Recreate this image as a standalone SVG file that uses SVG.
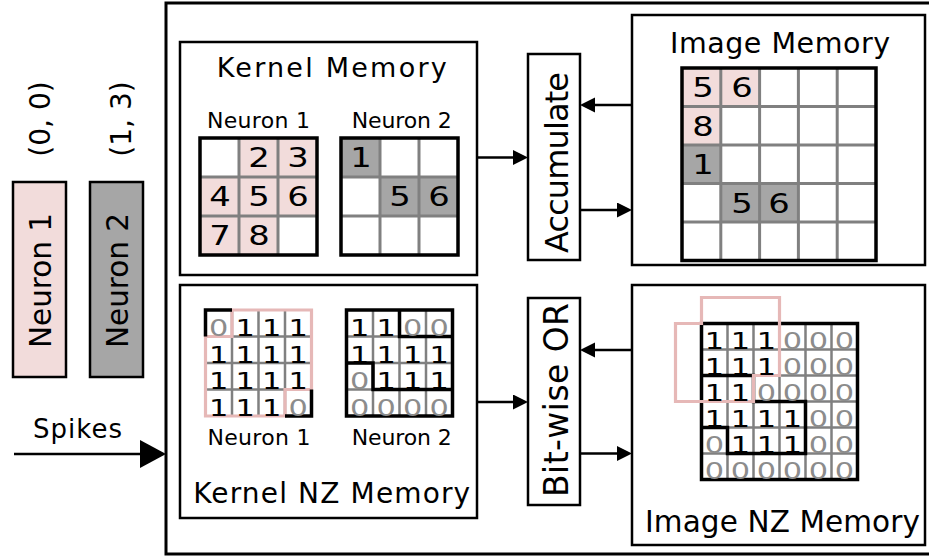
<svg xmlns="http://www.w3.org/2000/svg" width="929" height="556" viewBox="0 0 929 556">
  <style>
    .t { font-family: "DejaVu Sans", "Liberation Sans", sans-serif; fill: #000; }
    .mid { text-anchor: middle; }
    .box { fill: #fff; stroke: #000; stroke-width: 2.5; }
    .frame { fill: none; stroke: #000; stroke-width: 3; }
    .pink { fill: #F2DCDB; }
    .grey { fill: #A6A6A6; }
    .gl { fill: none; stroke: #808080; stroke-width: 3; }
    .gl2 { fill: none; stroke: #808080; stroke-width: 2.5; }
    .gb { fill: none; stroke: #000; stroke-width: 3.5; }
    .po { fill: none; stroke: #E6B8B7; stroke-width: 3.2; }
    .kd { font-size: 26px; text-anchor: middle; }
    .nd { font-size: 22.5px; text-anchor: middle; }
    .z { fill: #8C8C8C; }
    .wire { fill: none; stroke: #000; stroke-width: 2.5; }
  </style>
  <defs>
    <marker id="ah" markerUnits="userSpaceOnUse" markerWidth="16" markerHeight="16" refX="0" refY="7.5" orient="auto">
      <path d="M0,0 L15,7.5 L0,15 Z" fill="#000"/>
    </marker>
    <marker id="ahBig" markerUnits="userSpaceOnUse" markerWidth="28" markerHeight="30" refX="0" refY="14" orient="auto">
      <path d="M0,0 L26,14 L0,28 Z" fill="#000"/>
    </marker>
  </defs>

  <rect width="929" height="556" fill="#fff"/>

  <!-- spike sources -->
  <g id="neuron1">
    <rect x="13" y="182" width="53" height="195" class="pink" stroke="#000" stroke-width="2.5"/>
    <text class="t mid" font-size="29.5" textLength="135" transform="translate(50.5,280.5) rotate(-90)">Neuron 1</text>
    <text class="t mid" font-size="28" transform="translate(49.5,119) rotate(-90)">(0, 0)</text>
  </g>
  <g id="neuron2">
    <rect x="90" y="182" width="53" height="195" class="grey" stroke="#000" stroke-width="2.5"/>
    <text class="t mid" font-size="29.5" textLength="135" transform="translate(127.5,280.5) rotate(-90)">Neuron 2</text>
    <text class="t mid" font-size="28" transform="translate(131,119) rotate(-90)">(1, 3)</text>
  </g>
  <g id="spikes">
    <text class="t mid" x="77.5" y="438" font-size="26" textLength="89">Spikes</text>
  </g>

  <!-- accelerator frame -->
  <g id="core">
    <rect x="166" y="3" width="790" height="551" class="frame"/>
  </g>

  <!-- Kernel Memory -->
  <g id="kernel-memory">
    <rect x="180" y="42" width="297" height="233" class="box"/>
    <text class="t mid" x="331.7" y="77" font-size="27" textLength="230">Kernel Memory</text>
    <text class="t mid" x="258.5" y="128.3" font-size="22" textLength="103">Neuron 1</text>
    <text class="t mid" x="401.7" y="128.3" font-size="22" textLength="100">Neuron 2</text>
    <!-- neuron 1 kernel -->
    <rect x="239" y="138" width="78" height="39" class="pink"/>
    <rect x="200" y="177" width="117" height="39" class="pink"/>
    <rect x="200" y="216" width="78" height="39" class="pink"/>
    <path d="M239,138 V255 M278,138 V255 M200,177 H317 M200,216 H317" class="gl"/>
    <rect x="200" y="138" width="117" height="117" class="gb"/>
    <text class="t kd" transform="translate(259,167) scale(1.3,1)">2</text>
    <text class="t kd" transform="translate(298,167) scale(1.3,1)">3</text>
    <text class="t kd" transform="translate(220,206) scale(1.3,1)">4</text>
    <text class="t kd" transform="translate(259,206) scale(1.3,1)">5</text>
    <text class="t kd" transform="translate(298,206) scale(1.3,1)">6</text>
    <text class="t kd" transform="translate(220,245) scale(1.3,1)">7</text>
    <text class="t kd" transform="translate(259,245) scale(1.3,1)">8</text>
    <!-- neuron 2 kernel -->
    <rect x="341" y="138" width="39" height="39" class="grey"/>
    <rect x="380" y="177" width="78" height="39" class="grey"/>
    <path d="M380,138 V255 M419,138 V255 M341,177 H458 M341,216 H458" class="gl"/>
    <rect x="341" y="138" width="117" height="117" class="gb"/>
    <text class="t kd" transform="translate(361,167) scale(1.3,1)">1</text>
    <text class="t kd" transform="translate(400,206) scale(1.3,1)">5</text>
    <text class="t kd" transform="translate(439,206) scale(1.3,1)">6</text>
  </g>

  <!-- Image Memory -->
  <g id="image-memory">
    <rect x="632" y="15" width="293" height="250" class="box"/>
    <text class="t mid" x="780" y="53.3" font-size="28.5" textLength="220">Image Memory</text>
    <rect x="682" y="68" width="77.6" height="38.5" class="pink"/>
    <rect x="682" y="106.5" width="38.8" height="38.5" class="pink"/>
    <rect x="682" y="145" width="38.8" height="38.5" class="grey"/>
    <rect x="720.8" y="183.5" width="77.6" height="38.5" class="grey"/>
    <path d="M720.8,68 V260.5 M759.6,68 V260.5 M798.4,68 V260.5 M837.2,68 V260.5 M682,106.5 H876 M682,145 H876 M682,183.5 H876 M682,222 H876" class="gl"/>
    <rect x="682" y="68" width="194" height="192.5" class="gb"/>
    <text class="t kd" transform="translate(703,97) scale(1.3,1)">5</text>
    <text class="t kd" transform="translate(742,97) scale(1.3,1)">6</text>
    <text class="t kd" transform="translate(703,135.5) scale(1.3,1)">8</text>
    <text class="t kd" transform="translate(703,174) scale(1.3,1)">1</text>
    <text class="t kd" transform="translate(742,212.5) scale(1.3,1)">5</text>
    <text class="t kd" transform="translate(779,212.5) scale(1.3,1)">6</text>
  </g>

  <!-- Accumulate unit -->
  <g id="accumulate">
    <rect x="528" y="54" width="52" height="206" class="box"/>
    <text class="t mid" font-size="32" textLength="181" transform="translate(568,162.5) rotate(-90)">Accumulate</text>
  </g>

  <!-- Kernel NZ Memory -->
  <g id="kernel-nz-memory">
    <rect x="180" y="285" width="297" height="233" class="box"/>
    <text class="t mid" x="331.7" y="503.3" font-size="28" textLength="277">Kernel NZ Memory</text>
    <text class="t mid" x="259" y="445" font-size="22" textLength="103">Neuron 1</text>
    <text class="t mid" x="401.7" y="445" font-size="22" textLength="100">Neuron 2</text>
    <!-- neuron 1 non-zero map -->
    <path d="M232,310 V416 M258.5,310 V416 M285,310 V416 M205.5,336.5 H311.5 M205.5,363 H311.5 M205.5,389.5 H311.5" class="gl2"/>
    <path d="M232,310 H311.5 V389.5 H285 V416 H205.5 V336.5 H232 Z" class="po"/>
    <path d="M205.5,336.5 V310 H232 M285,416 H311.5 V389.5" class="gb"/>
    <text class="t nd z" transform="translate(218.75,336) scale(1.35,1)">0</text>
    <text class="t nd" transform="translate(245.25,336) scale(1.35,1)">1</text>
    <text class="t nd" transform="translate(271.75,336) scale(1.35,1)">1</text>
    <text class="t nd" transform="translate(298.25,336) scale(1.35,1)">1</text>
    <text class="t nd" transform="translate(218.75,362.5) scale(1.35,1)">1</text>
    <text class="t nd" transform="translate(245.25,362.5) scale(1.35,1)">1</text>
    <text class="t nd" transform="translate(271.75,362.5) scale(1.35,1)">1</text>
    <text class="t nd" transform="translate(298.25,362.5) scale(1.35,1)">1</text>
    <text class="t nd" transform="translate(218.75,389) scale(1.35,1)">1</text>
    <text class="t nd" transform="translate(245.25,389) scale(1.35,1)">1</text>
    <text class="t nd" transform="translate(271.75,389) scale(1.35,1)">1</text>
    <text class="t nd" transform="translate(298.25,389) scale(1.35,1)">1</text>
    <text class="t nd" transform="translate(218.75,415.5) scale(1.35,1)">1</text>
    <text class="t nd" transform="translate(245.25,415.5) scale(1.35,1)">1</text>
    <text class="t nd" transform="translate(271.75,415.5) scale(1.35,1)">1</text>
    <text class="t nd z" transform="translate(298.25,415.5) scale(1.35,1)">0</text>
    <!-- neuron 2 non-zero map -->
    <path d="M373,310 V416 M399.5,310 V416 M426,310 V416 M346.5,336.5 H452.5 M346.5,363 H452.5 M346.5,389.5 H452.5" class="gl2"/>
    <path d="M399.5,310 V336.5 H452.5 M346.5,363 H373 V389.5 H452.5" class="gb"/>
    <rect x="346.5" y="310" width="106" height="106" class="gb"/>
    <text class="t nd" transform="translate(359.75,336) scale(1.35,1)">1</text>
    <text class="t nd" transform="translate(386.25,336) scale(1.35,1)">1</text>
    <text class="t nd z" transform="translate(412.75,336) scale(1.35,1)">0</text>
    <text class="t nd z" transform="translate(439.25,336) scale(1.35,1)">0</text>
    <text class="t nd" transform="translate(359.75,362.5) scale(1.35,1)">1</text>
    <text class="t nd" transform="translate(386.25,362.5) scale(1.35,1)">1</text>
    <text class="t nd" transform="translate(412.75,362.5) scale(1.35,1)">1</text>
    <text class="t nd" transform="translate(439.25,362.5) scale(1.35,1)">1</text>
    <text class="t nd z" transform="translate(359.75,389) scale(1.35,1)">0</text>
    <text class="t nd" transform="translate(386.25,389) scale(1.35,1)">1</text>
    <text class="t nd" transform="translate(412.75,389) scale(1.35,1)">1</text>
    <text class="t nd" transform="translate(439.25,389) scale(1.35,1)">1</text>
    <text class="t nd z" transform="translate(359.75,415.5) scale(1.35,1)">0</text>
    <text class="t nd z" transform="translate(386.25,415.5) scale(1.35,1)">0</text>
    <text class="t nd z" transform="translate(412.75,415.5) scale(1.35,1)">0</text>
    <text class="t nd z" transform="translate(439.25,415.5) scale(1.35,1)">0</text>
  </g>

  <!-- Image NZ Memory -->
  <g id="image-nz-memory">
    <rect x="632" y="285" width="293" height="260" class="box"/>
    <text class="t mid" x="782.5" y="531.7" font-size="29.5" textLength="275">Image NZ Memory</text>
    <path d="M727.5,323.5 V479.5 M753.5,323.5 V479.5 M779.5,323.5 V479.5 M805.5,323.5 V479.5 M831.5,323.5 V479.5 M701.5,349.5 H857.5 M701.5,375.5 H857.5 M701.5,401.5 H857.5 M701.5,427.5 H857.5 M701.5,453.5 H857.5" class="gl2"/>
    <rect x="701.5" y="323.5" width="156" height="156" class="gb"/>
    <path d="M701.5,375.5 H753.5 V401.5 H805.5 V453.5 H727.5 V427.5 H701.5" class="gb"/>
    <path d="M701.5,297.5 H779.5 V375.5 H753.5 V401.5 H675.5 V323.5 H701.5 Z" class="po"/>
    <!-- row 0 -->
    <text class="t nd" transform="translate(714.5,349) scale(1.35,1)">1</text>
    <text class="t nd" transform="translate(740.5,349) scale(1.35,1)">1</text>
    <text class="t nd" transform="translate(766.5,349) scale(1.35,1)">1</text>
    <text class="t nd z" transform="translate(792.5,349) scale(1.35,1)">0</text>
    <text class="t nd z" transform="translate(818.5,349) scale(1.35,1)">0</text>
    <text class="t nd z" transform="translate(844.5,349) scale(1.35,1)">0</text>
    <!-- row 1 -->
    <text class="t nd" transform="translate(714.5,375) scale(1.35,1)">1</text>
    <text class="t nd" transform="translate(740.5,375) scale(1.35,1)">1</text>
    <text class="t nd" transform="translate(766.5,375) scale(1.35,1)">1</text>
    <text class="t nd z" transform="translate(792.5,375) scale(1.35,1)">0</text>
    <text class="t nd z" transform="translate(818.5,375) scale(1.35,1)">0</text>
    <text class="t nd z" transform="translate(844.5,375) scale(1.35,1)">0</text>
    <!-- row 2 -->
    <text class="t nd" transform="translate(714.5,401) scale(1.35,1)">1</text>
    <text class="t nd" transform="translate(740.5,401) scale(1.35,1)">1</text>
    <text class="t nd z" transform="translate(766.5,401) scale(1.35,1)">0</text>
    <text class="t nd z" transform="translate(792.5,401) scale(1.35,1)">0</text>
    <text class="t nd z" transform="translate(818.5,401) scale(1.35,1)">0</text>
    <text class="t nd z" transform="translate(844.5,401) scale(1.35,1)">0</text>
    <!-- row 3 -->
    <text class="t nd" transform="translate(714.5,427) scale(1.35,1)">1</text>
    <text class="t nd" transform="translate(740.5,427) scale(1.35,1)">1</text>
    <text class="t nd" transform="translate(766.5,427) scale(1.35,1)">1</text>
    <text class="t nd" transform="translate(792.5,427) scale(1.35,1)">1</text>
    <text class="t nd z" transform="translate(818.5,427) scale(1.35,1)">0</text>
    <text class="t nd z" transform="translate(844.5,427) scale(1.35,1)">0</text>
    <!-- row 4 -->
    <text class="t nd z" transform="translate(714.5,453) scale(1.35,1)">0</text>
    <text class="t nd" transform="translate(740.5,453) scale(1.35,1)">1</text>
    <text class="t nd" transform="translate(766.5,453) scale(1.35,1)">1</text>
    <text class="t nd" transform="translate(792.5,453) scale(1.35,1)">1</text>
    <text class="t nd z" transform="translate(818.5,453) scale(1.35,1)">0</text>
    <text class="t nd z" transform="translate(844.5,453) scale(1.35,1)">0</text>
    <!-- row 5 -->
    <text class="t nd z" transform="translate(714.5,479) scale(1.35,1)">0</text>
    <text class="t nd z" transform="translate(740.5,479) scale(1.35,1)">0</text>
    <text class="t nd z" transform="translate(766.5,479) scale(1.35,1)">0</text>
    <text class="t nd z" transform="translate(792.5,479) scale(1.35,1)">0</text>
    <text class="t nd z" transform="translate(818.5,479) scale(1.35,1)">0</text>
    <text class="t nd z" transform="translate(844.5,479) scale(1.35,1)">0</text>
  </g>

  <!-- Bit-wise OR unit -->
  <g id="bitwise-or">
    <rect x="528" y="298" width="52" height="207" class="box"/>
    <text class="t mid" font-size="33" textLength="194" transform="translate(568,400) rotate(-90)">Bit-wise OR</text>
  </g>

  <!-- data paths -->
  <g id="connectors">
    <path d="M14,454 H140" class="wire" marker-end="url(#ahBig)"/>
    <path d="M477,157.5 H513" class="wire" marker-end="url(#ah)"/>
    <path d="M632,105 H595" class="wire" marker-end="url(#ah)"/>
    <path d="M580,210 H617" class="wire" marker-end="url(#ah)"/>
    <path d="M477,402 H513" class="wire" marker-end="url(#ah)"/>
    <path d="M632,350 H595" class="wire" marker-end="url(#ah)"/>
    <path d="M580,453.5 H617" class="wire" marker-end="url(#ah)"/>
  </g>
</svg>
